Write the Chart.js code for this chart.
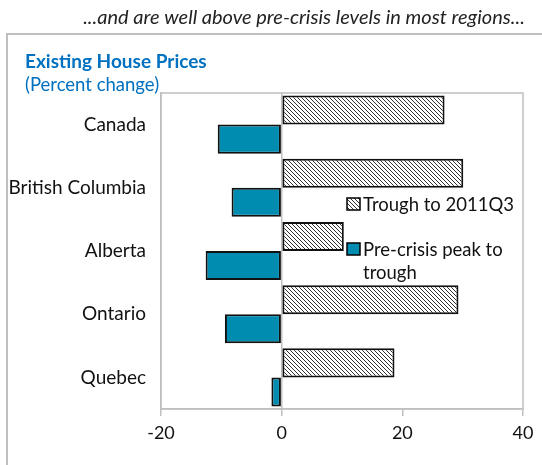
<!DOCTYPE html>
<html>
<head>
<meta charset="utf-8">
<script src="https://cdn.jsdelivr.net/npm/chart.js@4.4.1/dist/chart.umd.min.js"></script>
<style>
  html, body { margin: 0; padding: 0; background: #fff; }
  #wrap { width: 542px; height: 465px; position: relative; }
</style>
</head>
<body>
<div id="wrap"><canvas id="houseChart" width="542" height="465"></canvas></div>
<script>
var regions = ["Canada", "British Columbia", "Alberta", "Ontario", "Quebec"];
var troughTo2011Q3 = [27.0, 30.1, 10.3, 29.3, 18.7];
var peakToTrough = [-10.6, -8.3, -12.6, -9.4, -1.7];
var seriesNames = ["Trough to 2011Q3", "Pre-crisis peak to trough"];

var FONT = "Lato, 'Open Sans', sans-serif";
var BLUE = "#008BB0";
var TITLE_BLUE = "#0070C0";
var GREY = "#BFBFBF";

// hatch pattern for the trough bars
function makeHatch() {
    var c = document.createElement("canvas");
    c.width = 4; c.height = 4;
    var g = c.getContext("2d");
    g.fillStyle = "#fff";
    g.fillRect(0, 0, 4, 4);
    g.strokeStyle = "#333";
    g.lineWidth = 1;
    g.beginPath();
    g.moveTo(-1, -1); g.lineTo(5, 5);
    g.moveTo(-1, 3); g.lineTo(1, 5);
    g.moveTo(3, -1); g.lineTo(5, 1);
    g.stroke();
    return g.createPattern(c, "repeat");
}
var hatch = makeHatch();

var decorations = {
    id: "decorations",
    beforeDraw: function(chart) {
        var ctx = chart.ctx, a = chart.chartArea;
        ctx.save();
        ctx.fillStyle = "#fff";
        ctx.fillRect(0, 0, chart.width, chart.height);
        // outer frame
        ctx.strokeStyle = GREY;
        ctx.lineWidth = 2;
        ctx.strokeRect(7, 34, 600, 600);
        // plot box
        ctx.lineWidth = 1.5;
        ctx.strokeRect(a.left, a.top, a.right - a.left, a.bottom - a.top);
        // texts
        ctx.textBaseline = "middle";
        ctx.textAlign = "center";
        ctx.fillStyle = "#222";
        ctx.font = "italic 20px " + FONT;
        ctx.fillText("...and are well above pre-crisis levels in most regions...", 304, 18);
        ctx.textAlign = "left";
        ctx.fillStyle = TITLE_BLUE;
        ctx.font = "bold 19px " + FONT;
        ctx.fillText("Existing House Prices", 25, 62);
        ctx.font = "18.5px " + FONT;
        ctx.fillText("(Percent change)", 25, 85);
        ctx.restore();
    },
    afterDraw: function(chart) {
        var ctx = chart.ctx;
        ctx.save();
        ctx.lineWidth = 1.5;
        ctx.strokeStyle = "#000";
        ctx.fillStyle = hatch;
        ctx.fillRect(347, 198, 13, 12);
        ctx.strokeRect(347, 198, 13, 12);
        ctx.fillStyle = BLUE;
        ctx.fillRect(347, 243, 13, 12);
        ctx.strokeRect(347, 243, 13, 12);
        ctx.fillStyle = "#111";
        ctx.font = "18.5px " + FONT;
        ctx.textBaseline = "middle";
        ctx.textAlign = "left";
        ctx.fillText(seriesNames[0], 363, 205);
        ctx.fillText("Pre-crisis peak to", 363, 250);
        ctx.fillText("trough", 363, 273);
        ctx.restore();
    }
};

new Chart(document.getElementById("houseChart"), {
    type: "bar",
    data: {
        labels: regions,
        datasets: [
            {
                label: seriesNames[0],
                data: troughTo2011Q3,
                backgroundColor: hatch,
                borderColor: "#111",
                borderWidth: 2,
                borderSkipped: false
            },
            {
                label: seriesNames[1],
                data: peakToTrough,
                backgroundColor: BLUE,
                borderColor: "#111",
                borderWidth: 2,
                borderSkipped: false
            }
        ]
    },
    options: {
        indexAxis: "y",
        responsive: false,
        animation: false,
        layout: { padding: { left: 0, top: 93, right: 19, bottom: 0 } },
        datasets: { bar: { categoryPercentage: 0.92, barPercentage: 1.0 } },
        plugins: {
            legend: { display: false },
            tooltip: { enabled: false }
        },
        scales: {
            x: {
                min: -20,
                max: 40,
                ticks: {
                    stepSize: 20,
                    color: "#111",
                    font: { family: FONT, size: 18 },
                    padding: 6
                },
                grid: {
                    color: function(c) { return c.tick && c.tick.value === 0 ? GREY : "rgba(0,0,0,0)"; },
                    tickColor: GREY,
                    tickLength: 7,
                    lineWidth: 1.5
                },
                border: { color: GREY, width: 1.5 },
                afterFit: function(s) { s.height = 56; }
            },
            y: {
                ticks: {
                    color: "#111",
                    font: { family: FONT, size: 19 },
                    padding: 15
                },
                grid: { display: false, drawTicks: false },
                border: { color: GREY, width: 1.5 },
                afterFit: function(s) { s.width = 161; }
            }
        }
    },
    plugins: [decorations]
});
</script>
</body>
</html>
